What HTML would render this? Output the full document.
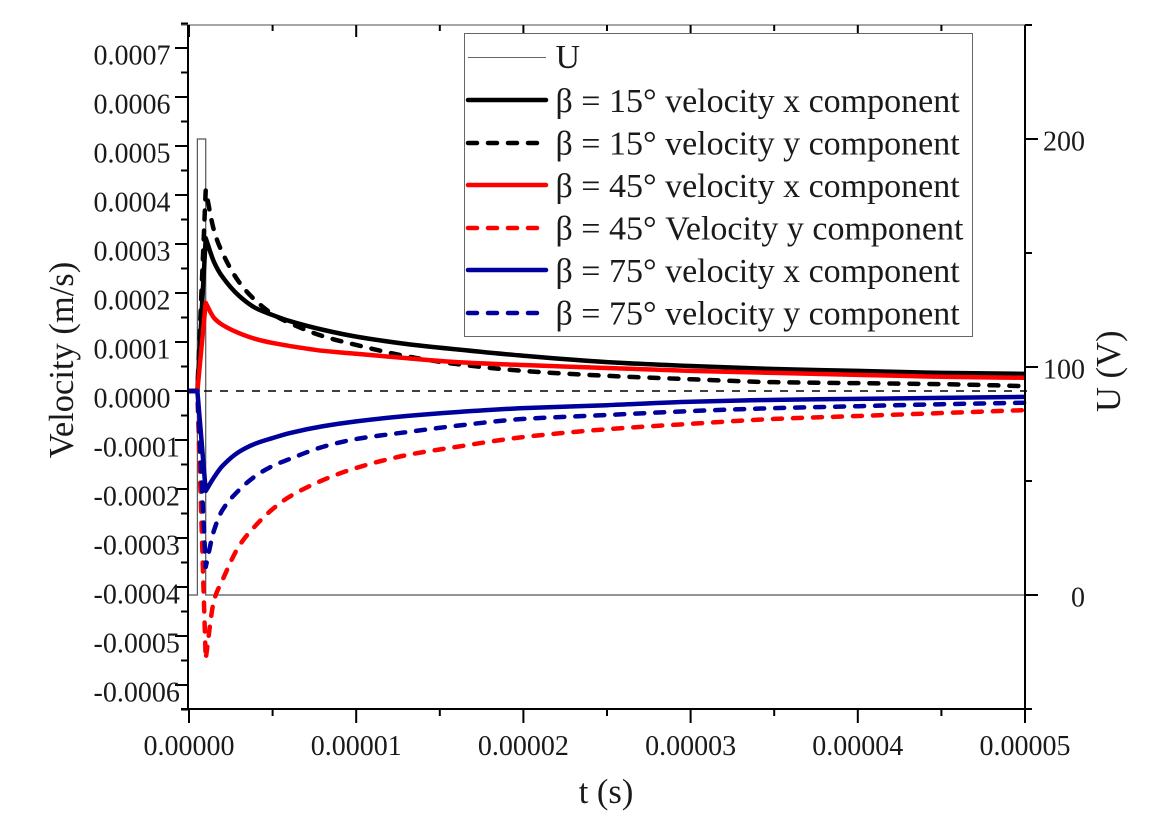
<!DOCTYPE html>
<html lang="en">
<head>
<meta charset="utf-8">
<title>Velocity and voltage vs time</title>
<style>
html,body{margin:0;padding:0;background:#fff;}
svg{display:block;filter:blur(0.35px);}
text{font-family:"Liberation Serif","DejaVu Serif",serif;fill:#1a1a1a;}
.tick{font-size:28px;}
.title{font-size:34.5px;}
.leg{font-size:34px;}
</style>
</head>
<body>
<svg id="chart" width="1152" height="823" viewBox="0 0 1152 823" xmlns="http://www.w3.org/2000/svg">
  <rect x="0" y="0" width="1152" height="823" fill="#fff"/>
  <g id="marks" fill="none"></g>
  <g id="axes"></g>
  <text class="title" x="606" y="803" text-anchor="middle">t (s)</text>
  <text class="title" transform="translate(73,360) rotate(-90)" text-anchor="middle">Velocity (m/s)</text>
  <text class="title" transform="translate(1120,412) rotate(-90)">U (V)</text>
  <g>
    <rect x="464.5" y="33.5" width="508" height="303" fill="#fff" stroke="#666" stroke-width="1"/>
    <line x1="468" x2="546" y1="57.5" y2="57.5" stroke="#666" stroke-width="1"/>
    <text class="leg" x="555.5" y="68">U</text>
    <line x1="468" x2="546" y1="100" y2="100" stroke="#000" stroke-width="4.5" stroke-linecap="round"/>
    <text class="leg" x="555.5" y="112">β = 15° velocity x component</text>
    <line x1="468" x2="540" y1="143" y2="143" stroke="#000" stroke-width="4.5" stroke-linecap="round" stroke-dasharray="9 11"/>
    <text class="leg" x="555.5" y="154.5">β = 15° velocity y component</text>
    <line x1="468" x2="546" y1="185" y2="185" stroke="#f00" stroke-width="4.5" stroke-linecap="round"/>
    <text class="leg" x="555.5" y="197">β = 45° velocity x component</text>
    <line x1="468" x2="540" y1="228" y2="228" stroke="#f00" stroke-width="4.5" stroke-linecap="round" stroke-dasharray="9 11"/>
    <text class="leg" x="555.5" y="239.5">β = 45° Velocity y component</text>
    <line x1="468" x2="546" y1="270" y2="270" stroke="#00009c" stroke-width="4.5" stroke-linecap="round"/>
    <text class="leg" x="555.5" y="282">β = 75° velocity x component</text>
    <line x1="468" x2="540" y1="313" y2="313" stroke="#00009c" stroke-width="4.5" stroke-linecap="round" stroke-dasharray="9 11"/>
    <text class="leg" x="555.5" y="324.5">β = 75° velocity y component</text>
  </g>
</svg>
<script>
// ---- data (time in microseconds, velocity in 1e-4 m/s, voltage in V) ----
const timeMicros = [0,0.5,1,1.5,2,3,4,5,6,8,10,13,16,20,25,30,35,40,45,50];
const beta15X = [0,0,3.12,2.63,2.33,1.94,1.69,1.55,1.43,1.25,1.11,0.96,0.85,0.72,0.59,0.51,0.45,0.41,0.37,0.35];
const beta15Y = [0,0,4.10,3.27,2.82,2.22,1.84,1.57,1.39,1.12,0.94,0.71,0.55,0.41,0.31,0.24,0.18,0.16,0.14,0.10];
const beta45X = [0,0,1.80,1.49,1.35,1.18,1.06,0.98,0.92,0.82,0.76,0.67,0.59,0.53,0.47,0.41,0.37,0.33,0.29,0.27];
const beta45Y = [0,0,-5.47,-4.27,-3.86,-3.16,-2.74,-2.41,-2.16,-1.82,-1.57,-1.31,-1.14,-0.94,-0.78,-0.67,-0.57,-0.51,-0.45,-0.39];
const beta75X = [0,0,-2.04,-1.76,-1.53,-1.24,-1.07,-0.96,-0.86,-0.72,-0.62,-0.51,-0.43,-0.35,-0.29,-0.22,-0.18,-0.16,-0.14,-0.12];
const beta75Y = [0,0,-3.59,-2.84,-2.43,-2.02,-1.73,-1.53,-1.39,-1.14,-0.98,-0.84,-0.71,-0.57,-0.49,-0.41,-0.35,-0.31,-0.27,-0.24];
const pulseTime = [0,0.5,0.5,1,1,50];
const pulseVolts = [0,0,200,200,0,0];
const xTickValues = [0,10,20,30,40,50];
const xTickLabels = ["0.00000","0.00001","0.00002","0.00003","0.00004","0.00005"];
const xMinorValues = [5,15,25,35,45];
const yTickValues = [7,6,5,4,3,2,1,0,-1,-2,-3,-4,-5,-6];
const yTickLabels = ["0.0007","0.0006","0.0005","0.0004","0.0003","0.0002","0.0001","0.0000","-0.0001","-0.0002","-0.0003","-0.0004","-0.0005","-0.0006"];
const yMinorValues = [7.5,6.5,5.5,4.5,3.5,2.5,1.5,0.5,-0.5,-1.5,-2.5,-3.5,-4.5,-5.5,-6.5];
const uTickValues = [200,100,0];
const uTickLabels = ["200","100","0"];
const uMinorValues = [250,150,50,-50];

// ---- scales ----
function xScale(t){ return 189 + t*16.72; }
function yScale(v){ return 391 - v*49; }
function uScale(u){ return 595 - u*2.28; }

const NS = "http://www.w3.org/2000/svg";
const marks = document.getElementById("marks");
const axes = document.getElementById("axes");

function mkLine(parent,x1,y1,x2,y2,color,width){
  const l = document.createElementNS(NS,"line");
  l.setAttribute("x1",x1); l.setAttribute("y1",y1);
  l.setAttribute("x2",x2); l.setAttribute("y2",y2);
  l.setAttribute("stroke",color); l.setAttribute("stroke-width",width);
  parent.appendChild(l);
  return l;
}
function mkText(x,y,str,anchor){
  const t = document.createElementNS(NS,"text");
  t.setAttribute("x",x); t.setAttribute("y",y);
  t.setAttribute("class","tick");
  t.setAttribute("text-anchor",anchor);
  t.textContent = str;
  axes.appendChild(t);
  return t;
}
function mkPoly(xs,ys,color,width){
  const p = document.createElementNS(NS,"polyline");
  p.setAttribute("points",xs.map((x,i)=>x.toFixed(2)+","+ys[i].toFixed(2)).join(" "));
  p.setAttribute("stroke",color);
  p.setAttribute("stroke-width",width);
  marks.appendChild(p);
  return p;
}
// straight rise up to the peak (index 2), then a monotone cubic through the decay
function curvePath(xs,ys){
  let d = "M"+xs[0].toFixed(2)+" "+ys[0].toFixed(2)+"L"+xs[1].toFixed(2)+" "+ys[1].toFixed(2)+"L"+xs[2].toFixed(2)+" "+ys[2].toFixed(2);
  const s = [], m = [];
  for(let i=2;i<xs.length-1;i++){ s[i] = (ys[i+1]-ys[i])/(xs[i+1]-xs[i]); }
  m[2] = s[2];
  m[xs.length-1] = s[xs.length-2];
  for(let i=3;i<xs.length-1;i++){
    m[i] = s[i-1]*s[i] > 0 ? 2*s[i-1]*s[i]/(s[i-1]+s[i]) : 0;
  }
  for(let i=2;i<xs.length-1;i++){
    const h = (xs[i+1]-xs[i])/3;
    d += "C"+(xs[i]+h).toFixed(2)+" "+(ys[i]+m[i]*h).toFixed(2)+" "+(xs[i+1]-h).toFixed(2)+" "+(ys[i+1]-m[i+1]*h).toFixed(2)+" "+xs[i+1].toFixed(2)+" "+ys[i+1].toFixed(2);
  }
  return d;
}
function mkCurve(values,color,dash){
  const p = document.createElementNS(NS,"path");
  p.setAttribute("d",curvePath(timeMicros.map(xScale),values.map(yScale)));
  p.setAttribute("stroke",color);
  p.setAttribute("stroke-width",4.5);
  p.setAttribute("stroke-linejoin","round");
  p.setAttribute("stroke-linecap",dash ? "round" : "butt");
  if(dash) p.setAttribute("stroke-dasharray",dash);
  marks.appendChild(p);
  return p;
}

// ---- marks ----
const pulse = mkPoly(pulseTime.map(xScale),pulseVolts.map(uScale),"#555",1.2);



const zero = mkLine(marks,188,yScale(0),1027,yScale(0),"#000",1.5);
zero.setAttribute("stroke-dasharray","8 8");



const s1 = mkCurve(beta15X,"#000",null);


const s2 = mkCurve(beta15Y,"#000","9 11");


const s3 = mkCurve(beta45X,"#f00",null);


const s4 = mkCurve(beta45Y,"#f00","9 11");


const s5 = mkCurve(beta75X,"#00009c",null);


const s6 = mkCurve(beta75Y,"#00009c","9 11");



// ---- axis frame ----
const topAxis = mkLine(axes,181,25,1031,25,"#707070",1.2);


const leftAxis = mkLine(axes,188,25,188,710,"#000",2);


const rightAxis = mkLine(axes,1025,25,1025,723,"#000",2);


const bottomAxis = mkLine(axes,181,709,1031,709,"#000",2);



// ---- x ticks ----
xTickValues.forEach((v,i)=>{
  const x = xScale(v);
  const a = mkLine(axes,x,709,x,723,"#000",2);
  
  
  const b = mkLine(axes,x,25,x,37,"#000",2);
  
  
  const t = mkText(x,755,xTickLabels[i],"middle");
  
  
});
xMinorValues.forEach(v=>{
  const x = xScale(v);
  const a = mkLine(axes,x,709,x,716,"#000",2);
  
  
  const b = mkLine(axes,x,25,x,31,"#000",2);
  
  
});

// ---- left y ticks ----
yTickValues.forEach((v,i)=>{
  const y = yScale(v);
  const a = mkLine(axes,175,y,188,y,"#000",2);
  
  
  const t = mkText(93.5,y+16.5,yTickLabels[i],"start");
  
  
});
yMinorValues.forEach(v=>{
  const y = yScale(v);
  const a = mkLine(axes,181,y,188,y,"#000",2);
  
  
});

// ---- right U ticks ----
uTickValues.forEach((v,i)=>{
  const y = uScale(v);
  const a = mkLine(axes,1025,y,1038,y,"#000",2);
  
  
  const t = mkText(1085,y+11.5,uTickLabels[i],"end");
  
  
});
uMinorValues.forEach(v=>{
  const y = uScale(v);
  const a = mkLine(axes,1025,y,1032,y,"#000",2);
  
  
});
</script>
</body>
</html>
